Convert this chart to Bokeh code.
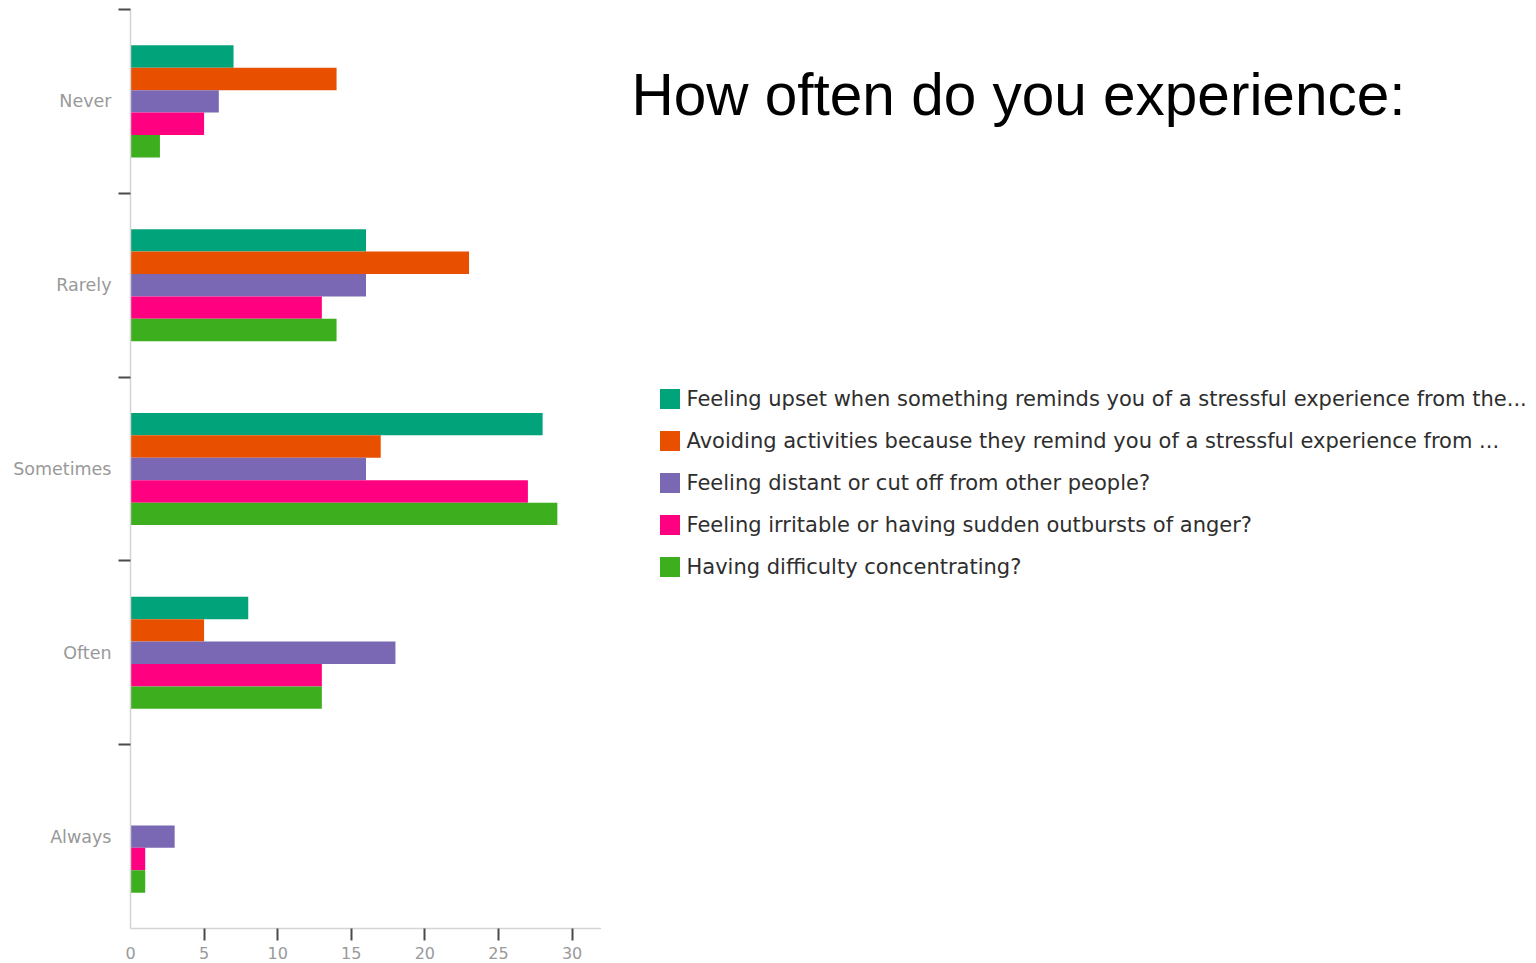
from bokeh.plotting import figure
from bokeh.layouts import row
from bokeh.models import (Range1d, FixedTicker, Legend, LegendItem, Label,
                          ColumnDataSource)
from bokeh.embed import file_html
from bokeh.resources import INLINE

# Survey answers, top to bottom
categories = ["Never", "Rarely", "Sometimes", "Often", "Always"]

series_names = [
    "Feeling upset when something reminds you of a stressful experience from the...",
    "Avoiding activities because they remind you of a stressful experience from ...",
    "Feeling distant or cut off from other people?",
    "Feeling irritable or having sudden outbursts of anger?",
    "Having difficulty concentrating?",
]

upset = [7, 16, 28, 8, 0]
avoiding = [14, 23, 17, 5, 0]
distant = [6, 16, 16, 18, 3]
irritable = [5, 13, 27, 13, 1]
concentrating = [2, 14, 29, 13, 1]

series_values = [upset, avoiding, distant, irritable, concentrating]
colors = ["#00A37A", "#E85000", "#7A68B4", "#FF0080", "#3DAE1E"]

x_ticks = [0, 5, 10, 15, 20, 25, 30]

title_text = "How often do you experience:"

label_font = "DejaVu Sans"
label_color = "#999999"

# ---------------------------------------------------------------- bar chart
p = figure(
    frame_width=471, frame_height=919,
    min_border_left=130, min_border_right=0,
    min_border_top=9, min_border_bottom=35,
    x_range=Range1d(0, 32), y_range=Range1d(5, 0),
    output_backend="svg", toolbar_location=None,
)
p.outline_line_color = None
p.xgrid.visible = False
p.ygrid.visible = False

# grouped horizontal bars: each category occupies one unit band
bar_h = 0.122
centers = [i + 0.5 for i in range(len(categories))]
sources = []
for k, vals in enumerate(series_values):
    offset = (k - 2) * bar_h
    sources.append(ColumnDataSource(dict(
        y=[c + offset for c in centers],
        right=vals,
        cat=categories,
    )))

for src, col in zip(sources, colors):
    p.hbar(y="y", left=0, right="right", height=bar_h, source=src,
           fill_color=col, line_color=None)

# y axis: labels at band centres, tick marks at band boundaries
yax = p.yaxis[0]
yax.ticker = FixedTicker(ticks=centers, minor_ticks=list(range(len(categories))))
yax.major_label_overrides = {c: name for c, name in zip(centers, categories)}
yax.major_tick_line_color = None
yax.major_tick_out = 12
yax.major_tick_in = 0
yax.minor_tick_line_color = "#4a4a4a"
yax.minor_tick_line_width = 2
yax.minor_tick_out = 12
yax.minor_tick_in = 0
yax.major_label_standoff = 7
yax.major_label_text_font = label_font
yax.major_label_text_font_size = "17.5px"
yax.major_label_text_color = label_color
yax.axis_line_color = "#d4d4d4"
yax.axis_line_width = 1.5

# x axis: counts; tick marks everywhere except at the origin
# (minor ticks nudged off the majors so they are not dropped as duplicates)
xax = p.xaxis[0]
xax.ticker = FixedTicker(ticks=x_ticks,
                         minor_ticks=[t + 1e-9 for t in x_ticks[1:]])
xax.major_tick_line_color = None
xax.major_tick_out = 12
xax.major_tick_in = 0
xax.minor_tick_line_color = "#4a4a4a"
xax.minor_tick_line_width = 2
xax.minor_tick_out = 12
xax.minor_tick_in = 0
xax.major_label_standoff = 6
xax.major_label_text_font = label_font
xax.major_label_text_font_size = "16px"
xax.major_label_text_color = label_color
xax.axis_line_color = "#d4d4d4"
xax.axis_line_width = 1.5

# ------------------------------------------------------- title and legend
# frame coordinates of this panel are page pixels
side = figure(
    frame_width=935, frame_height=919,
    min_border_left=0, min_border_right=0,
    min_border_top=9, min_border_bottom=35,
    x_range=Range1d(601, 1536), y_range=Range1d(928, 9),
    x_axis_location=None, y_axis_location=None,
    output_backend="svg", toolbar_location=None,
)
side.outline_line_color = None
side.grid.visible = False

legend_renderers = []
for src, col in zip(sources, colors):
    r = side.hbar(y="y", left=0, right="right", height=bar_h, source=src,
                  fill_color=col, line_color=None, visible=False)
    legend_renderers.append(r)

legend = Legend(
    items=[LegendItem(label=n, renderers=[r])
           for n, r in zip(series_names, legend_renderers)],
    location=(55.5, 349),
    orientation="vertical",
    glyph_width=25, glyph_height=25,
    label_standoff=5,
    label_height=20,
    spacing=17,
    padding=0, margin=0,
    border_line_color=None,
    background_fill_alpha=0,
    label_text_font=label_font,
    label_text_font_size="21px",
    label_text_color="#2e2e2e",
)
side.add_layout(legend, "center")

title = Label(
    x=631, y=94, text=title_text,
    text_font="Liberation Sans", text_font_size="58.5px",
    text_color="black", text_baseline="alphabetic", text_align="left",
)
side.add_layout(title)

layout = row(p, side)
open("out.html", "w").write(file_html(layout, INLINE))
